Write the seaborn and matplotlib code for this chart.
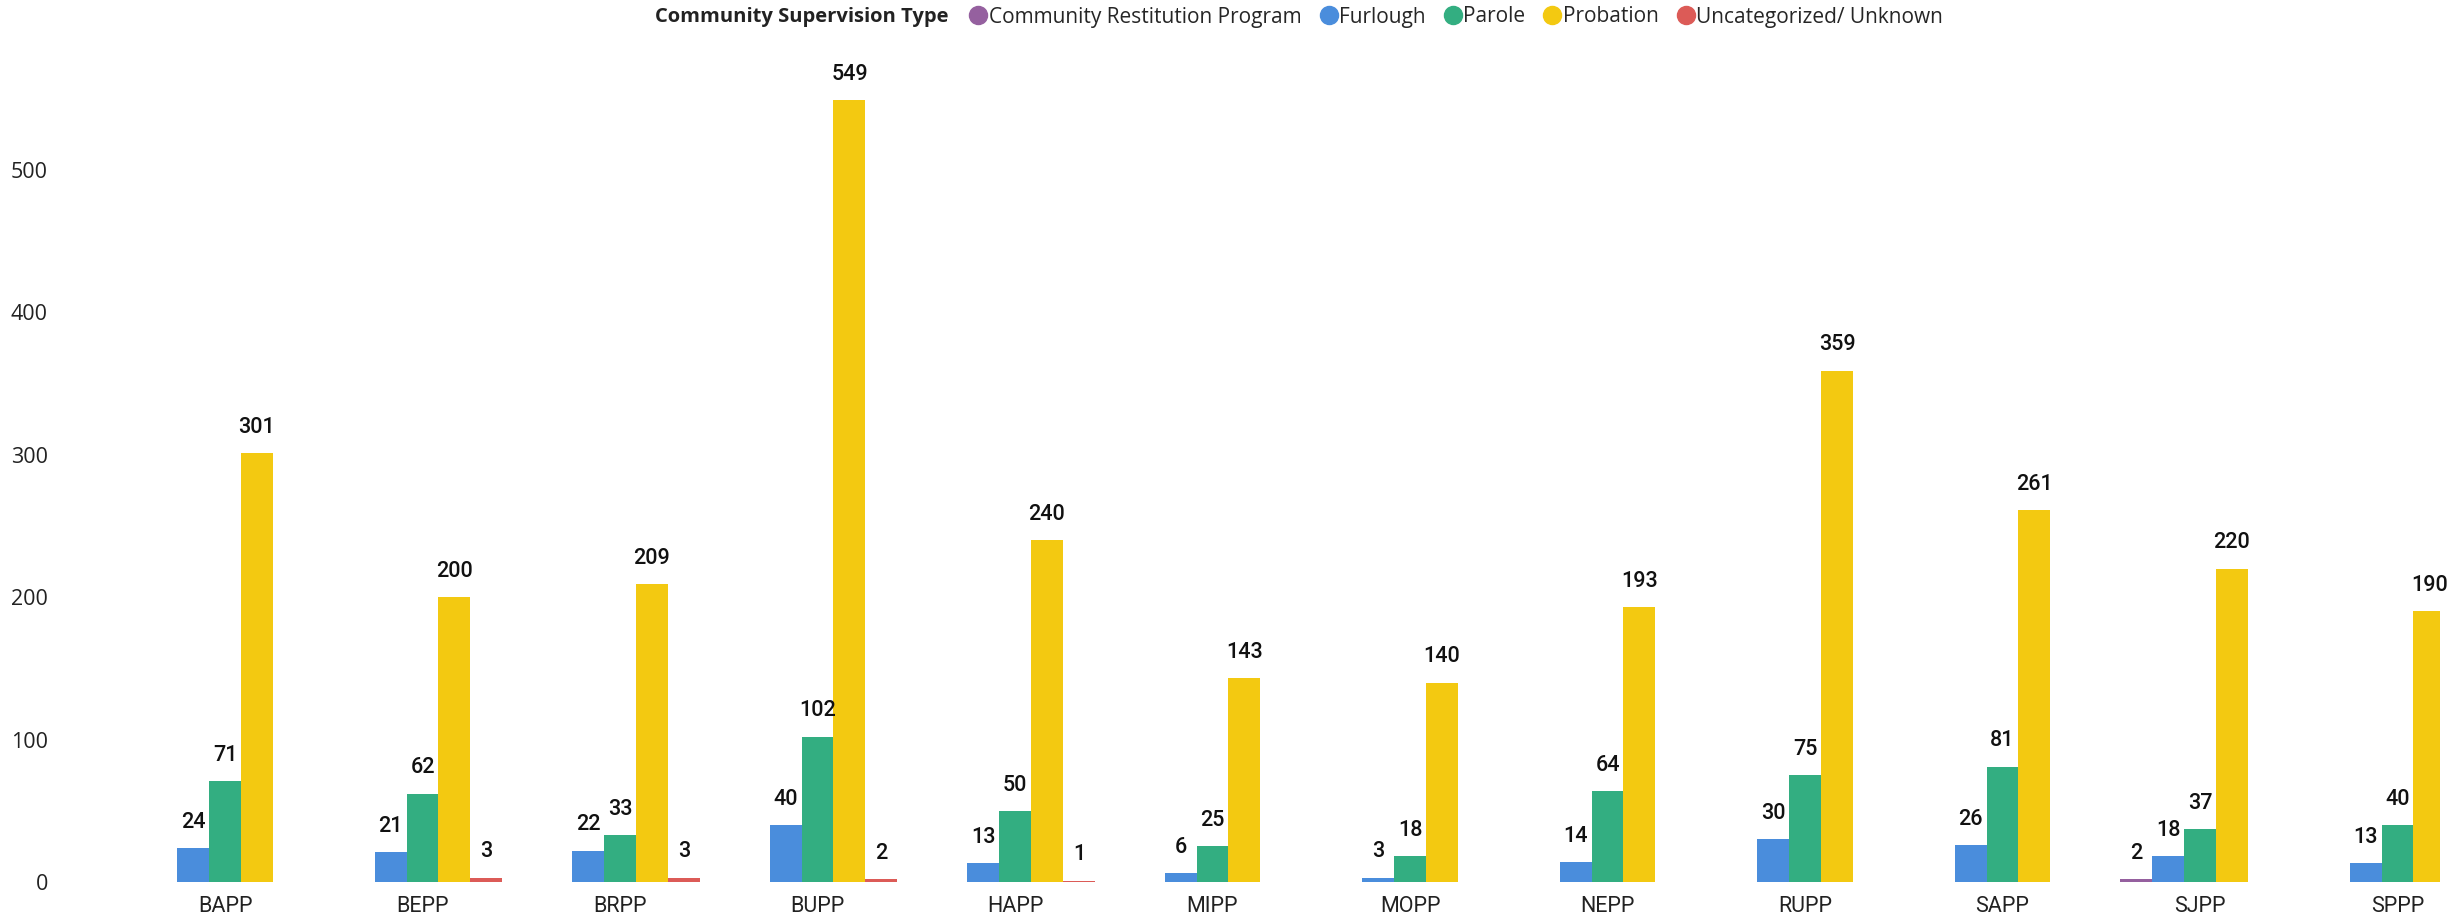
import matplotlib
matplotlib.use("Agg")
import matplotlib.pyplot as plt
from matplotlib.lines import Line2D
import numpy as np
import pandas as pd
import seaborn as sns

categories = ["BAPP", "BEPP", "BRPP", "BUPP", "HAPP", "MIPP", "MOPP", "NEPP", "RUPP", "SAPP", "SJPP", "SPPP"]
series_names = ["Community Restitution Program", "Furlough", "Parole", "Probation", "Uncategorized/ Unknown"]
restitution = [None, None, None, None, None, None, None, None, None, None, 2, None]
furlough = [24, 21, 22, 40, 13, 6, 3, 14, 30, 26, 18, 13]
parole = [71, 62, 33, 102, 50, 25, 18, 64, 75, 81, 37, 40]
probation = [301, 200, 209, 549, 240, 143, 140, 193, 359, 261, 220, 190]
uncategorized = [None, 3, 3, 2, 1, None, None, None, None, None, None, None]
colors = ["#95609F", "#4A8DDC", "#33AE81", "#F3C911", "#DC5B57"]
y_ticks = [0, 100, 200, 300, 400, 500]

rows = []
for name, vals in zip(series_names, [restitution, furlough, parole, probation, uncategorized]):
    for c, v in zip(categories, vals):
        if v is not None:
            rows.append({"Office": c, "Type": name, "Count": v})
df = pd.DataFrame(rows)

sns.set_theme(style="white")
plt.rcParams["font.family"] = ["Open Sans", "DejaVu Sans"]

W, H = 2459, 916
fig = plt.figure(figsize=(W / 100, H / 100), dpi=100)
ax_left, ax_right = 70, 2440
ax_bottom_px, ax_top_px = 882, 45
ax = fig.add_axes([ax_left / W, (H - ax_bottom_px) / H, (ax_right - ax_left) / W, (ax_bottom_px - ax_top_px) / H])

sns.barplot(data=df, x="Office", y="Count", hue="Type", order=categories, hue_order=series_names,
            palette=colors, width=0.81, ax=ax, legend=False, saturation=1, errorbar=None,
            linewidth=0, edgecolor="none")

for cont in ax.containers:
    ax.bar_label(cont, labels=[f"{int(b.get_height())}" for b in cont], padding=11,
                 fontsize=15.5, fontfamily="Roboto", fontweight="medium", color="#111111")

cat0, step = 225, 197.5
ax.set_xlim((ax_left - cat0) / step, 11 + (ax_right - (cat0 + 11 * step)) / step)
ax.set_ylim(0, (ax_bottom_px - ax_top_px) / 1.4244)
ax.set_yticks(y_ticks)
ax.set_xlabel("")
ax.set_ylabel("")
for s in ax.spines.values():
    s.set_visible(False)
ax.tick_params(axis="both", length=0)
ax.tick_params(axis="y", pad=16, labelsize=15.5, labelcolor="#222222")
ax.tick_params(axis="x", pad=10, labelsize=15.5, labelcolor="#222222")
for t in ax.get_xticklabels():
    t.set_fontfamily("Roboto")
ax.grid(False)

ly = 1 - 17 / H
fig.text(655 / W, ly, "Community Supervision Type", ha="left", va="center",
         fontsize=14.5, fontweight="bold", color="#222222")
handles = [Line2D([0], [0], marker="o", linestyle="none", markersize=13,
                  markerfacecolor=c, markeredgecolor=c) for c in colors]
fig.legend(handles, series_names, loc="center left", bbox_to_anchor=(968 / W, ly), ncol=5,
           frameon=False, fontsize=15, handletextpad=0.0, columnspacing=0.8, borderpad=0,
           handlelength=1.0, borderaxespad=0)

fig.savefig("out.png", dpi=100)
